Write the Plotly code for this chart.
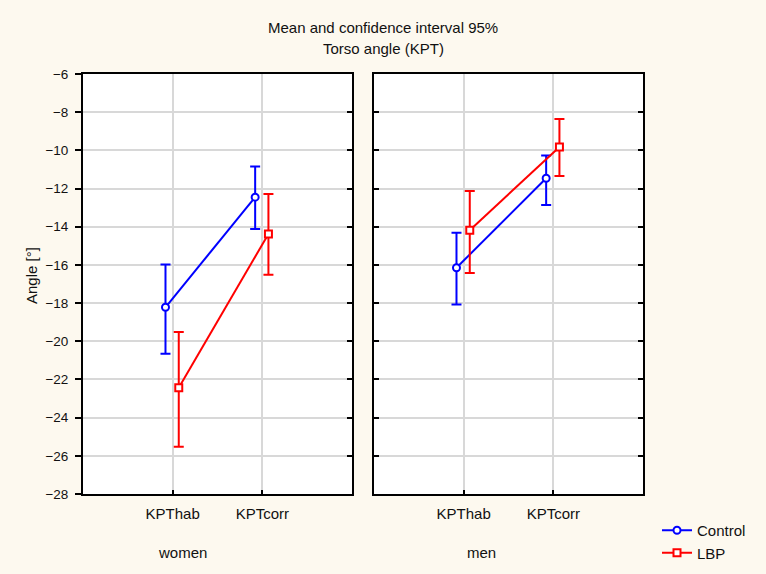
import plotly.graph_objects as go

categories = ["KPThab", "KPTcorr"]
groups = ["women", "men"]
series_names = ["Control", "LBP"]

control_women_mean = [-18.22, -12.45]
control_women_low = [-20.65, -14.12]
control_women_high = [-15.98, -10.85]

lbp_women_mean = [-22.44, -14.38]
lbp_women_low = [-25.53, -16.52]
lbp_women_high = [-19.51, -12.28]

control_men_mean = [-16.15, -11.46]
control_men_low = [-18.07, -12.86]
control_men_high = [-14.32, -10.27]

lbp_men_mean = [-14.18, -9.82]
lbp_men_low = [-16.42, -11.34]
lbp_men_high = [-12.13, -8.36]

y_ticks = list(range(-28, -5, 2))

BLUE = "#0000ff"
RED = "#ff0000"
BG = "#fdf9ef"
FONT = "Liberation Sans, Arial, sans-serif"
TXT = "#111111"

pos = [1, 2]
offs = {"Control": -0.08, "LBP": 0.068}

fig = go.Figure()


def add_series(name, mean, low, high, xa, ya, color, symbol, show):
    xs = [p + offs[name] for p in pos]
    fig.add_trace(go.Scatter(
        x=xs, y=mean, name=name, mode="lines+markers",
        xaxis=xa, yaxis=ya, showlegend=show, legendgroup=name,
        line=dict(color=color, width=2),
        marker=dict(symbol=symbol, size=7, color="white",
                    line=dict(color=color, width=2)),
        error_y=dict(type="data", symmetric=False,
                     array=[h - m for h, m in zip(high, mean)],
                     arrayminus=[m - l for m, l in zip(mean, low)],
                     color=color, thickness=2, width=5),
    ))


add_series("Control", control_women_mean, control_women_low, control_women_high,
           "x", "y", BLUE, "circle", True)
add_series("LBP", lbp_women_mean, lbp_women_low, lbp_women_high,
           "x", "y", RED, "square", True)
add_series("Control", control_men_mean, control_men_low, control_men_high,
           "x2", "y2", BLUE, "circle", False)
add_series("LBP", lbp_men_mean, lbp_men_low, lbp_men_high,
           "x2", "y2", RED, "square", False)

W, H = 766, 574
L, R, T, B = 83, 123, 74, 80
pw = W - L - R
ph = H - T - B
d1 = (352 - L) / pw
d2 = (374 - L) / pw

xcommon = dict(range=[0, 3], tickvals=pos, ticktext=categories,
               showgrid=True, gridcolor="#d8d8d8", gridwidth=1.5,
               showline=True, linecolor="black", linewidth=2, mirror=True,
               ticks="inside", ticklen=4, tickcolor="black", tickwidth=1.5,
               ticklabelstandoff=5,
               zeroline=False, tickfont=dict(size=15, color=TXT, family=FONT))
ycommon = dict(range=[-28, -6], tickvals=y_ticks,
               showgrid=True, gridcolor="#d8d8d8", gridwidth=1.5,
               showline=True, linecolor="black", linewidth=2,
               tickcolor="black", tickwidth=1.5, zeroline=False,
               tickfont=dict(size=13.5, color=TXT, family=FONT))

fig.update_layout(
    width=W, height=H,
    margin=dict(l=L, r=R, t=T, b=B, autoexpand=False),
    paper_bgcolor=BG, plot_bgcolor="white",
    font=dict(family=FONT, size=13, color=TXT),
    xaxis=dict(domain=[0, d1], anchor="y", **xcommon),
    xaxis2=dict(domain=[d2, 1], anchor="y2", **xcommon),
    yaxis=dict(domain=[0, 1], anchor="x", ticks="outside", ticklen=6,
               mirror=True, ticklabelstandoff=4, **ycommon),
    yaxis2=dict(domain=[0, 1], anchor="x2", ticks="inside", ticklen=5,
                mirror="ticks", showticklabels=False, **ycommon),
    yaxis3=dict(overlaying="y", anchor="x", side="right", range=[-28, -6],
                tickvals=y_ticks, ticks="inside", ticklen=5, tickcolor="black",
                tickwidth=1.5, showticklabels=False, showgrid=False,
                showline=False, zeroline=False),
    legend=dict(x=(657 - L) / pw, y=(H - B - 514) / ph, xanchor="left", yanchor="top",
                bgcolor="rgba(0,0,0,0)", font=dict(size=15, family=FONT, color=TXT),
                tracegroupgap=0, itemwidth=30),
    showlegend=True,
)


def px_x(px):
    return (px - L) / pw


def px_y(py):
    return (H - B - py) / ph


anns = [
    dict(text="Mean and confidence interval 95%", x=px_x(383), y=px_y(28), size=15),
    dict(text="Torso angle (KPT)", x=px_x(383), y=px_y(48), size=15),
    dict(text=groups[0], x=px_x(182), y=px_y(552), size=15),
    dict(text=groups[1], x=px_x(481), y=px_y(552), size=15),
    dict(text="Angle [°]", x=px_x(31), y=px_y(276), size=15, textangle=-90),
]
for a in anns:
    size = a.pop("size")
    fig.add_annotation(xref="paper", yref="paper", showarrow=False,
                       xanchor="center", yanchor="middle",
                       font=dict(size=size, family=FONT, color=TXT), **a)

# dummy trace to activate yaxis3 (inside ticks on right edge of left panel)
fig.add_trace(go.Scatter(x=[None], y=[None], xaxis="x", yaxis="y3",
                         showlegend=False, hoverinfo="skip"))

fig.write_html("out.html", config={"displayModeBar": False},
               post_script="document.body.style.margin='0';document.body.style.overflow='hidden';")
